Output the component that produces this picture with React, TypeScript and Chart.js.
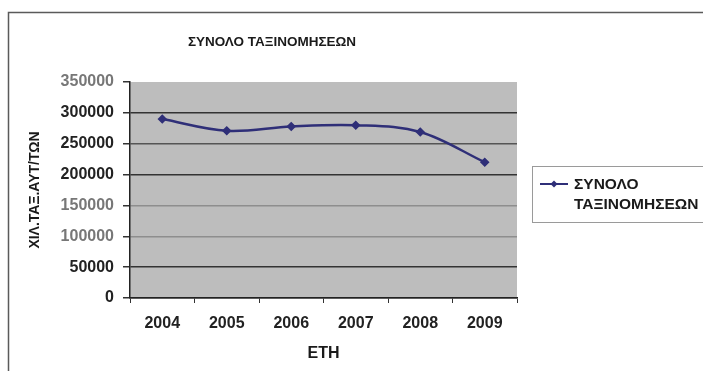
import React, { useEffect, useRef } from "react";
import { Chart, registerables } from "chart.js";

Chart.register(...registerables);

const years = ["2004", "2005", "2006", "2007", "2008", "2009"];
const totals = [290000, 271000, 278000, 280000, 269000, 220000];
const seriesLabel = "ΣΥΝΟΛΟ ΤΑΞΙΝΟΜΗΣΕΩΝ";
const chartTitle = "ΣΥΝΟΛΟ ΤΑΞΙΝΟΜΗΣΕΩΝ";
const xTitle = "ΕΤΗ";
const yTitle = "ΧΙΛ.ΤΑΞ.ΑΥΤ/ΤΩΝ";
const yMin = 0;
const yMax = 350000;
const yStep = 50000;

const FONT = "'Liberation Sans', Arial, sans-serif";
const LINE_COLOR = "#2f2f78";

const decorPlugin = {
  id: "decor",
  beforeDraw(chart: any) {
    const { ctx, chartArea } = chart;
    ctx.save();
    ctx.fillStyle = "#ffffff";
    ctx.fillRect(0, 0, chart.width, chart.height);
    ctx.fillStyle = "#bdbdbd";
    ctx.fillRect(chartArea.left, chartArea.top, chartArea.right - chartArea.left, chartArea.bottom - chartArea.top);
    ctx.restore();
  },
  afterDraw(chart: any) {
    const { ctx } = chart;
    ctx.save();
    // outer frame
    ctx.strokeStyle = "#5a5a5a";
    ctx.lineWidth = 1.5;
    ctx.strokeRect(8.5, 12.5, 720, 380);
    // title
    ctx.fillStyle = "#1a1a1a";
    ctx.font = `bold 13.5px ${FONT}`;
    ctx.textAlign = "center";
    ctx.textBaseline = "middle";
    ctx.fillText(chartTitle, 272, 42);
    // legend
    ctx.strokeStyle = "#9a9a9a";
    ctx.lineWidth = 1;
    ctx.strokeRect(532.5, 166.5, 200, 56);
    const ds = chart.data.datasets[0];
    ctx.strokeStyle = LINE_COLOR;
    ctx.lineWidth = 2;
    ctx.beginPath();
    ctx.moveTo(540, 184);
    ctx.lineTo(568, 184);
    ctx.stroke();
    ctx.fillStyle = LINE_COLOR;
    ctx.beginPath();
    ctx.moveTo(554, 180.5);
    ctx.lineTo(557.5, 184);
    ctx.lineTo(554, 187.5);
    ctx.lineTo(550.5, 184);
    ctx.closePath();
    ctx.fill();
    ctx.fillStyle = "#1a1a1a";
    ctx.font = `bold 15.5px ${FONT}`;
    ctx.textAlign = "left";
    ctx.textBaseline = "middle";
    const parts = String(ds.label).split(" ");
    parts.forEach((p: string, i: number) => ctx.fillText(p, 574, 185 + i * 20));
    ctx.restore();
  },
};

function gridColorFor(v: number): string {
  if (v === 350000) return "rgba(0,0,0,0)";
  if (v === 100000 || v === 150000) return "#8e8e8e";
  if (v === 250000) return "#555555";
  return "#333333";
}

function tickColorFor(v: number): string {
  if (v === 350000 || v === 100000 || v === 150000) return "#777777";
  return "#222222";
}

export default function App() {
  const ref = useRef<HTMLCanvasElement | null>(null);

  useEffect(() => {
    if (!ref.current) return;
    const chart = new Chart(ref.current, {
      type: "line",
      data: {
        labels: years,
        datasets: [
          {
            label: seriesLabel,
            data: totals,
            borderColor: LINE_COLOR,
            backgroundColor: LINE_COLOR,
            borderWidth: 2.5,
            pointStyle: "rectRot",
            pointRadius: 3,
            pointBackgroundColor: LINE_COLOR,
            pointBorderColor: LINE_COLOR,
            tension: 0.35,
            fill: false,
          },
        ],
      },
      options: {
        responsive: false,
        animation: false,
        devicePixelRatio: 1,
        layout: { padding: { left: 20, right: 186, top: 82, bottom: 0 } },
        plugins: {
          legend: { display: false },
          title: { display: false },
          tooltip: { enabled: false },
        },
        scales: {
          x: {
            type: "category",
            offset: true,
            afterFit: (s: any) => {
              s.height = 73;
            },
            border: { display: true, color: "#222222", width: 1.5 },
            grid: {
              offset: true,
              drawOnChartArea: false,
              drawTicks: true,
              tickLength: 5,
              color: "#333333",
            },
            ticks: {
              padding: 11,
              color: "#222222",
              font: { family: FONT, size: 16, weight: "bold" },
              maxRotation: 0,
            },
            title: {
              display: true,
              text: xTitle,
              color: "#1a1a1a",
              font: { family: FONT, size: 16, weight: "bold" },
              padding: { top: 4, bottom: 8 },
            },
          },
          y: {
            min: yMin,
            max: yMax,
            afterFit: (s: any) => {
              s.width = 110;
            },
            border: { display: true, color: "#222222", width: 1.5 },
            grid: {
              drawTicks: true,
              tickLength: 7,
              lineWidth: 1.5,
              color: (c: any) => gridColorFor(c.tick ? c.tick.value : 0),
              tickColor: "#333333",
            },
            ticks: {
              stepSize: yStep,
              padding: 9,
              color: (c: any) => tickColorFor(c.tick ? c.tick.value : 0),
              font: { family: FONT, size: 16, weight: "bold" },
              callback: (v: any) => String(v),
            },
            title: {
              display: true,
              text: yTitle,
              color: "#1a1a1a",
              font: { family: FONT, size: 14, weight: "bold" },
              padding: { top: 7, bottom: 7 },
            },
          },
        },
      },
      plugins: [decorPlugin],
    } as any);
    return () => chart.destroy();
  }, []);

  return (
    <div style={{ position: "absolute", left: 0, top: 0, width: 703, height: 371, background: "#fff" }}>
      <canvas ref={ref} width={703} height={371} style={{ display: "block", width: 703, height: 371 }} />
    </div>
  );
}
